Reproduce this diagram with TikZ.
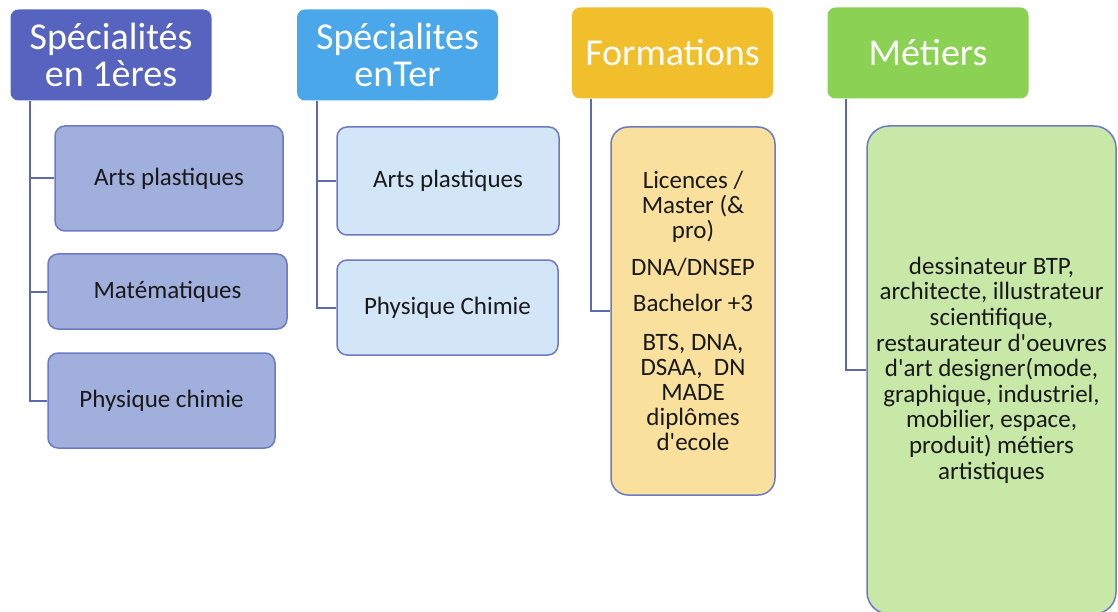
\documentclass[tikz,border=0pt]{standalone}
\usepackage{fontspec}
\newfontfamily\calfont{Carlito}
\definecolor{speAcol}{HTML}{5664C0}
\definecolor{speBcol}{HTML}{4AA8EA}
\definecolor{formcol}{HTML}{F1BF2C}
\definecolor{metcol}{HTML}{8BD153}
\definecolor{leafAcol}{HTML}{A1AFDD}
\definecolor{leafBcol}{HTML}{D2E6F8}
\definecolor{leafFcol}{HTML}{F9E09C}
\definecolor{leafMcol}{HTML}{C7E8A7}
\definecolor{rimcol}{HTML}{6C7AC4}
\definecolor{linkcol}{HTML}{5D69AC}
\begin{document}
\begin{tikzpicture}[x=1pt,y=-1pt,
		head/.style={rounded corners=8pt, text=white, font=\calfont\fontsize{38}{37}\selectfont, align=center,
			minimum width=201pt, minimum height=91pt, inner sep=0pt},
		flat/.style={text height=25pt, text depth=0pt},
		leaf/.style={draw=rimcol, line width=1.5pt, text=black!90, font=\calfont\fontsize{25}{25}\selectfont,
			align=center, inner sep=0pt, rounded corners=10pt},
		link/.style={draw=linkcol, line width=2pt}]
		\useasboundingbox (0,0) rectangle (1118,612);
		% titres
		\node[head, fill=speAcol] (spe1) at (111,55) {Spécialités\\en 1ères};
		\node[head, fill=speBcol] (speT) at (397.5,55) {Spécialites\\enTer};
		\node[head, flat, fill=formcol] (form) at (672.5,53) {Formations};
		\node[head, flat, fill=metcol] (met) at (928,53) {Métiers};
		% 1eres
		\node[leaf, fill=leafAcol, minimum width=228pt, minimum height=105pt] (a1) at (169,178.5) {Arts plastiques};
		\node[leaf, fill=leafAcol, minimum width=239pt, minimum height=75pt] (a2) at (167.5,291.5) {Matématiques};
		\node[leaf, fill=leafAcol, minimum width=227pt, minimum height=95pt] (a3) at (161.5,400.5) {Physique chimie};
		% terminale
		\node[leaf, fill=leafBcol, minimum width=222pt, minimum height=108pt] (b1) at (448,181) {Arts plastiques};
		\node[leaf, fill=leafBcol, minimum width=221pt, minimum height=95pt] (b2) at (447.5,307.5) {Physique Chimie};
		% formations
		\node[leaf, fill=leafFcol, rounded corners=17pt, minimum width=164pt, minimum height=368pt] (f1) at (693,311)
			{Licences /\\Master (\&\\pro)\\[12pt]DNA/DNSEP\\[11pt]Bachelor +3\\[14pt]BTS, DNA,\\DSAA,~ DN\\MADE\\diplômes\\d'ecole};
		% metiers
		\node[leaf, fill=leafMcol, rounded corners=22pt, minimum width=249pt, minimum height=488pt,
			font=\calfont\fontsize{25}{25.6}\selectfont] (m1) at (991.5,370)
			{dessinateur BTP,\\architecte, illustrateur\\scientifique,\\restaurateur d'oeuvres\\d'art designer(mode,\\graphique, industriel,\\mobilier, espace,\\produit) métiers\\artistiques};
		% liaisons
		\foreach \c in {a1, a2, a3}
			\draw[link] ([xshift=20pt]spe1.south west) |- (\c.west);
		\foreach \c in {b1, b2}
			\draw[link] ([xshift=20pt]speT.south west) |- (\c.west);
		\draw[link] ([xshift=19pt]form.south west) |- (f1.west);
		\draw[link] ([xshift=19pt]met.south west) |- (m1.west);
\end{tikzpicture}
\end{document}
